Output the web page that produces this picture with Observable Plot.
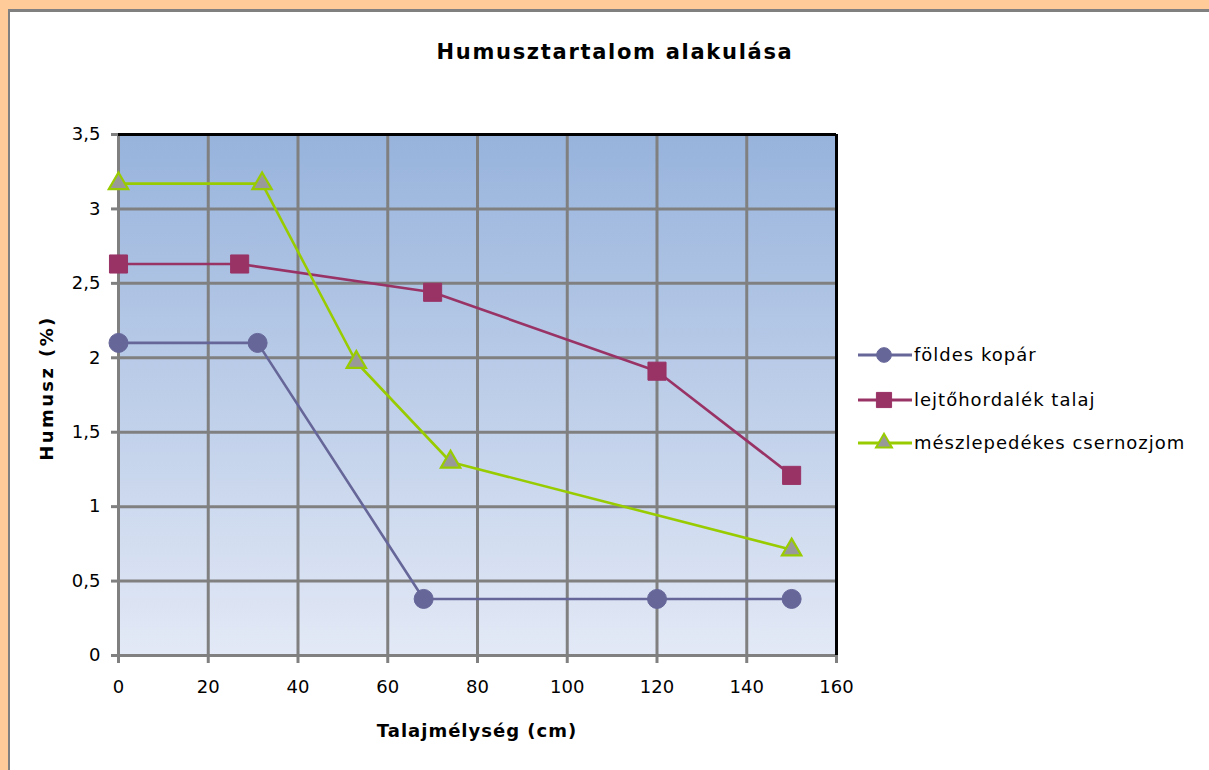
<!DOCTYPE html>
<html>
<head>
<meta charset="utf-8">
<script src="https://cdn.jsdelivr.net/npm/d3@7"></script>
<script src="https://cdn.jsdelivr.net/npm/@observablehq/plot@0.6"></script>
<style>
  body { margin: 0; background: #fff; }
  #chart { position: relative; width: 1209px; height: 770px; overflow: hidden;
           font-family: "DejaVu Sans", sans-serif; color: #000; }
  .band-top { position: absolute; left: 0; top: 0; width: 1209px; height: 9px; background: #ffcc99; }
  .band-left { position: absolute; left: 0; top: 0; width: 8px; height: 770px; background: #ffcc99; }
  .edge-top { position: absolute; left: 8px; top: 9px; width: 1201px; height: 3px; background: #808080; }
  .edge-left { position: absolute; left: 8px; top: 9px; width: 2px; height: 761px; background: #808080; }
  #plot { position: absolute; left: 0; top: 0; }
  .title { position: absolute; left: 615px; top: 42px; transform: translateX(-50%);
           font-size: 21px; font-weight: bold; letter-spacing: 1.7px; white-space: nowrap; line-height: 21px; }
  .xlabel { position: absolute; left: 477px; top: 722px; transform: translateX(-50%);
            font-size: 18px; font-weight: bold; letter-spacing: 1px; white-space: nowrap; line-height: 18px; }
  .ylabel { position: absolute; left: 47px; top: 388px; transform: translate(-50%, -50%) rotate(-90deg);
            font-size: 18px; font-weight: bold; letter-spacing: 2.4px; white-space: nowrap; line-height: 18px; }
  .legend-row { position: absolute; left: 858px; height: 24px; display: flex; align-items: center; }
  .legend-row span { font-size: 18px; letter-spacing: 1px; white-space: nowrap; margin-left: 2px; line-height: 18px; }
</style>
</head>
<body>
<div id="chart">
  <div class="band-top"></div>
  <div class="band-left"></div>
  <div class="edge-top"></div>
  <div class="edge-left"></div>
  <div id="plot"></div>
  <div class="title">Humusztartalom alakulása</div>
  <div class="ylabel">Humusz (%)</div>
  <div class="xlabel">Talajmélység (cm)</div>
  <div id="legend"></div>
</div>
<script>
// Soil profiles: depth (cm) and humus content (%)
const seriesNames = ["földes kopár", "lejtőhordalék talaj", "mészlepedékes csernozjom"];
const foldesDepth = [0, 31, 68, 120, 150];
const foldesHumus = [2.1, 2.1, 0.38, 0.38, 0.38];
const lejtoDepth = [0, 27, 70, 120, 150];
const lejtoHumus = [2.63, 2.63, 2.44, 1.91, 1.21];
const meszDepth = [0, 32, 53, 74, 150];
const meszHumus = [3.17, 3.17, 1.97, 1.3, 0.71];

const xTicks = [0, 20, 40, 60, 80, 100, 120, 140, 160];
const yTicks = [0, 0.5, 1, 1.5, 2, 2.5, 3, 3.5];

const seriesColors = ["#666699", "#993366", "#99cc00"];
const seriesSymbols = ["circle", "square", "triangle"];

const series = [
  {name: seriesNames[0], rows: foldesDepth.map((d, i) => ({depth: d, humus: foldesHumus[i]}))},
  {name: seriesNames[1], rows: lejtoDepth.map((d, i) => ({depth: d, humus: lejtoHumus[i]}))},
  {name: seriesNames[2], rows: meszDepth.map((d, i) => ({depth: d, humus: meszHumus[i]}))}
];

const markStyle = [
  {r: 9.5, fill: seriesColors[0], stroke: seriesColors[0], strokeWidth: 1},
  {r: 10.2, fill: seriesColors[1], stroke: seriesColors[1], strokeWidth: 1},
  {r: 7.2, fill: "#999999", stroke: seriesColors[2], strokeWidth: 2.2}
];

const seriesMarks = series.flatMap((s, i) => [
  Plot.line(s.rows, {x: "depth", y: "humus", stroke: seriesColors[i], strokeWidth: 2.6}),
  Plot.dot(s.rows, {x: "depth", y: "humus", symbol: seriesSymbols[i], ...markStyle[i]})
]);

const chart = Plot.plot({
  width: 1209,
  height: 770,
  marginLeft: 118,
  marginRight: 373,
  marginTop: 134,
  marginBottom: 115,
  style: {fontFamily: "DejaVu Sans, sans-serif", fontSize: "18px", color: "#000", background: "transparent", overflow: "visible"},
  x: {domain: [0, 160]},
  y: {domain: [0, 3.5]},
  marks: [
    Plot.frame({fill: "url(#plotBg)"}),
    Plot.gridX({ticks: xTicks, stroke: "#808080", strokeWidth: 3, strokeOpacity: 1}),
    Plot.gridY({ticks: yTicks, stroke: "#808080", strokeWidth: 3, strokeOpacity: 1}),
    Plot.ruleX([0], {stroke: "#808080", strokeWidth: 3}),
    Plot.ruleY([0], {stroke: "#808080", strokeWidth: 3}),
    Plot.ruleY([3.5], {stroke: "#000", strokeWidth: 3}),
    Plot.ruleX([160], {stroke: "#000", strokeWidth: 3}),
    Plot.axisX({ticks: xTicks, tickSize: 8, tickPadding: 17, stroke: "#808080", strokeWidth: 3, label: null,
                tickFormat: d => String(d)}),
    Plot.axisY({ticks: yTicks, tickSize: 7, tickPadding: 11, stroke: "#808080", strokeWidth: 3, label: null,
                tickFormat: d => String(d).replace(".", ",")}),
    ...seriesMarks
  ]
});

// vertical blue-to-white gradient for the plotting area
const defs = d3.select(chart).insert("defs", ":first-child");
const grad = defs.append("linearGradient").attr("id", "plotBg")
  .attr("x1", 0).attr("y1", 0).attr("x2", 0).attr("y2", 1);
grad.append("stop").attr("offset", "0%").attr("stop-color", "#97b3dc");
grad.append("stop").attr("offset", "100%").attr("stop-color", "#e3e9f6");

document.getElementById("plot").appendChild(chart);

// legend entries to the right of the plot
const legendRows = [343, 388, 431];
const legend = d3.select("#legend");
seriesNames.forEach((name, i) => {
  const row = legend.append("div").attr("class", "legend-row").style("top", legendRows[i] + "px");
  const svg = row.append("svg").attr("width", 54).attr("height", 24);
  svg.append("line").attr("x1", 0).attr("x2", 54).attr("y1", 12).attr("y2", 12)
    .attr("stroke", seriesColors[i]).attr("stroke-width", 3);
  const sym = d3.symbol().type(
    seriesSymbols[i] === "circle" ? d3.symbolCircle : seriesSymbols[i] === "square" ? d3.symbolSquare : d3.symbolTriangle
  ).size(seriesSymbols[i] === "triangle" ? 110 : seriesSymbols[i] === "square" ? 230 : 170);
  svg.append("path").attr("d", sym()).attr("transform", "translate(26,12)")
    .attr("fill", i === 2 ? "#999999" : seriesColors[i])
    .attr("stroke", seriesColors[i]).attr("stroke-width", i === 2 ? 2 : 1);
  row.append("span").text(name);
});
</script>
</body>
</html>
